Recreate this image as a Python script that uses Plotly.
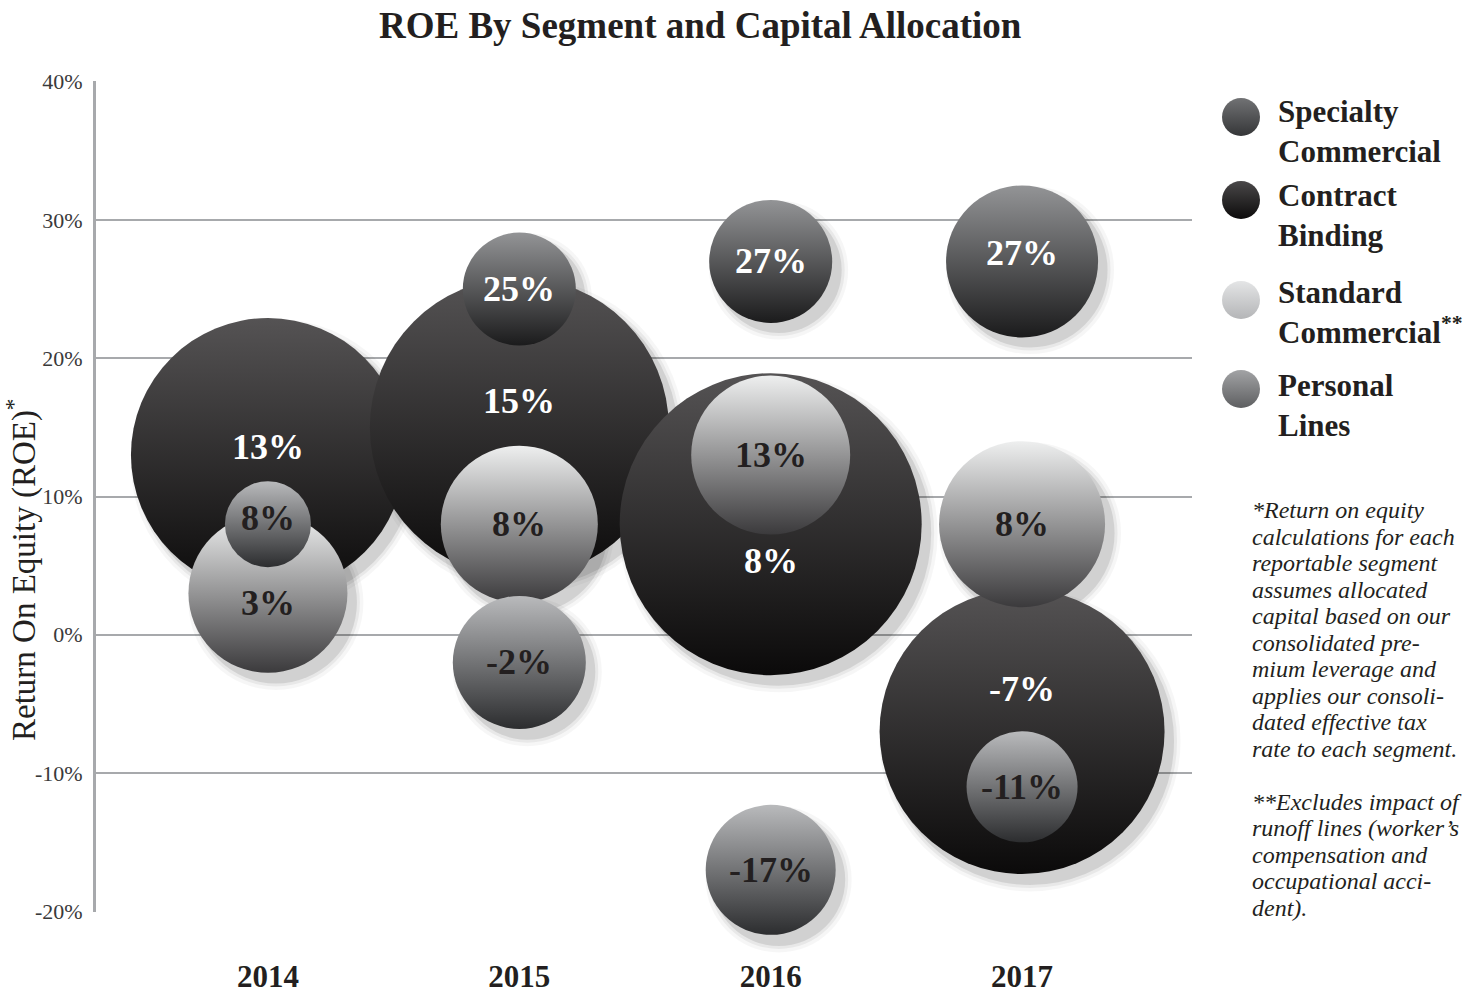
import plotly.graph_objects as go

# ---- data ----
years = [2014, 2015, 2016, 2017]

specialty_roe = [41, 25, 27, 27]
contract_roe = [13, 15, 8, -7]
standard_roe = [3, 8, 13, 8]
personal_roe = [8, -2, -17, -11]

# bubble size ~ capital allocated (rendered as diameter)
specialty_cap = [108, 113, 123, 152]
contract_cap = [274, 299, 302, 285]
standard_cap = [159, 157, 159, 166]
personal_cap = [86, 133, 130, 111]

y_ticks = [-20, -10, 0, 10, 20, 30, 40]
y_ticktext = ["-20%", "-10%", "0%", "10%", "20%", "30%", "40%"]

footnote_lines = [
    "*Return on equity", "calculations for each", "reportable segment",
    "assumes allocated", "capital based on our", "consolidated pre-",
    "mium leverage and", "applies our consoli-", "dated effective tax",
    "rate to each segment.", "",
    "**Excludes impact of", "runoff lines (worker’s", "compensation and",
    "occupational acci-", "dent).",
]

# ---- page geometry (pixels) ----
W, H = 1478, 994
PL, PR, PT, PB = 96, 1192, 81, 912
X_RANGE = [2013.316, 2017.676]
Y_RANGE = [-20, 40]
SHADOW_DX, SHADOW_DY = 8, 9

SERIF = "Liberation Serif, Times New Roman, serif"
INK = "#231f20"

# segment name, values, sizes, top colour, bottom colour, label colour
segments = [
    ("Contract Binding", contract_roe, contract_cap, "#555354", "#0b0a0a", "white"),
    ("Standard Commercial", standard_roe, standard_cap, "#eeefef", "#3b3a3c", INK),
    ("Specialty Commercial", specialty_roe, specialty_cap, "#939496", "#1b1b1c", "white"),
    ("Personal Lines", personal_roe, personal_cap, "#b9babc", "#2c2d2f", INK),
]

# nudges for the value labels (px, + is up)
label_shift = {
    ("Contract Binding", 2015): 26,
    ("Contract Binding", 2016): -37,
    ("Contract Binding", 2017): 43,
    ("Standard Commercial", 2014): -10,
    ("Specialty Commercial", 2014): 6,
    ("Specialty Commercial", 2017): 8,
    ("Contract Binding", 2014): 8,
    ("Personal Lines", 2014): 6,
}

xpx = (PR - PL) / (X_RANGE[1] - X_RANGE[0])
ypx = (PB - PT) / (Y_RANGE[1] - Y_RANGE[0])
sx = SHADOW_DX / xpx
sy = SHADOW_DY / ypx

fig = go.Figure()

# soft drop shadows on the base axes (shifted range -> offset down/right)
for name, vals, caps, c1, c2, tc in segments:
    for grow, alpha in [(16, 0.05), (9, 0.08), (3, 0.14)]:
        fig.add_trace(go.Scatter(
            x=years, y=vals, mode="markers",
            xaxis="x", yaxis="y", cliponaxis=False,
            marker=dict(size=[c + grow for c in caps], sizemode="diameter",
                        color=f"rgba(0,0,0,{alpha})", line=dict(width=0)),
            hoverinfo="skip", showlegend=False,
        ))

# the bubbles themselves
for name, vals, caps, c1, c2, tc in segments:
    fig.add_trace(go.Scatter(
        x=years, y=vals, mode="markers",
        xaxis="x2", yaxis="y2", name=name, cliponaxis=False,
        marker=dict(size=caps, sizemode="diameter", color=c1,
                    gradient=dict(type="vertical", color=c2),
                    line=dict(width=0), opacity=1),
        hovertemplate=name + "<br>%{x}: %{y}%<extra></extra>",
        showlegend=False,
    ))

annotations = []
for name, vals, caps, c1, c2, tc in segments:
    for yr, v in zip(years, vals):
        annotations.append(dict(
            x=yr, y=v, xref="x2", yref="y2", showarrow=False,
            text=f"<b>{v}%</b>", yshift=label_shift.get((name, yr), 0),
            font=dict(family=SERIF, size=36, color=tc),
        ))

# custom legend (big shaded swatches)
legend_items = [
    ("Specialty<br>Commercial", 117, 131, "#717274", "#353638"),
    ("Contract<br>Binding", 200, 215, "#4a4849", "#0c0b0b"),
    ("Standard<br>Commercial<sup>**</sup>", 300, 312, "#e4e5e6", "#b4b5b7"),
    ("Personal<br>Lines", 389, 405, "#a2a3a5", "#5e5f61"),
]
for txt, iy, ty, c1, c2 in legend_items:
    fig.add_trace(go.Scatter(
        x=[1241], y=[iy], mode="markers", xaxis="x3", yaxis="y3",
        marker=dict(size=38, color=c1, gradient=dict(type="vertical", color=c2),
                    line=dict(width=0)),
        hoverinfo="skip", showlegend=False,
    ))
    annotations.append(dict(
        x=1276 / W, y=1 - ty / H, xref="paper", yref="paper",
        xanchor="left", yanchor="middle", align="left", showarrow=False,
        text=f"<b>{txt}</b>", font=dict(family=SERIF, size=31, color=INK),
    ))

annotations += [
    dict(x=700 / W, y=1 - 25 / H, xref="paper", yref="paper", showarrow=False,
         xanchor="center", yanchor="middle",
         text="<b>ROE By Segment and Capital Allocation</b>",
         font=dict(family=SERIF, size=37, color=INK)),
    dict(x=21 / W, y=1 - 570 / H, xref="paper", yref="paper", showarrow=False,
         xanchor="center", yanchor="middle",
         textangle=-90, text="Return On Equity (ROE)<sup>*</sup>",
         font=dict(family=SERIF, size=33, color=INK)),
]

# footnote, one line at a time to keep the tight leading
for i, line in enumerate(footnote_lines):
    if not line:
        continue
    annotations.append(dict(
        x=1250 / W, y=1 - (510 + 26.5 * i) / H, xref="paper", yref="paper",
        xanchor="left", yanchor="middle", showarrow=False,
        text=f"<i>{line}</i>", font=dict(family=SERIF, size=24, color=INK),
    ))

dom_x = [PL / W, PR / W]
dom_y = [1 - PB / H, 1 - PT / H]

fig.update_layout(
    width=W, height=H,
    margin=dict(l=0, r=0, t=0, b=0, autoexpand=False),
    paper_bgcolor="white", plot_bgcolor="rgba(0,0,0,0)",
    showlegend=False,
    annotations=annotations,
    xaxis=dict(domain=dom_x, range=[X_RANGE[0] - sx, X_RANGE[1] - sx],
               visible=False, fixedrange=True, automargin=False),
    yaxis=dict(domain=dom_y, range=[Y_RANGE[0] + sy, Y_RANGE[1] + sy],
               visible=False, fixedrange=True, automargin=False),
    xaxis2=dict(overlaying="x", domain=dom_x, range=X_RANGE, automargin=False,
                tickvals=years, ticktext=[f"<b>{y}</b>" for y in years],
                tickfont=dict(family=SERIF, size=31, color=INK),
                ticks="", ticklabelstandoff=43, showgrid=False,
                zeroline=False, showline=False),
    yaxis2=dict(overlaying="y", domain=dom_y, range=[-20.05, 40.05], automargin=False,
                tickvals=y_ticks, ticktext=y_ticktext,
                tickfont=dict(family=SERIF, size=22, color="#3a3a3a"),
                ticks="", ticklabelstandoff=6,
                showgrid=True, gridcolor="#a7a9ac", gridwidth=1.5,
                zeroline=False, showline=True, linecolor="#a7a9ac", linewidth=3),
    xaxis3=dict(domain=[0, 1], range=[0, W], visible=False, anchor="y3", automargin=False),
    yaxis3=dict(domain=[0, 1], range=[H, 0], visible=False, anchor="x3", automargin=False),
)

# the page's default body margin would push the figure 8px off the window
fig.write_html("out.html", config={"displayModeBar": False},
               post_script="document.body.style.margin='0px';")
